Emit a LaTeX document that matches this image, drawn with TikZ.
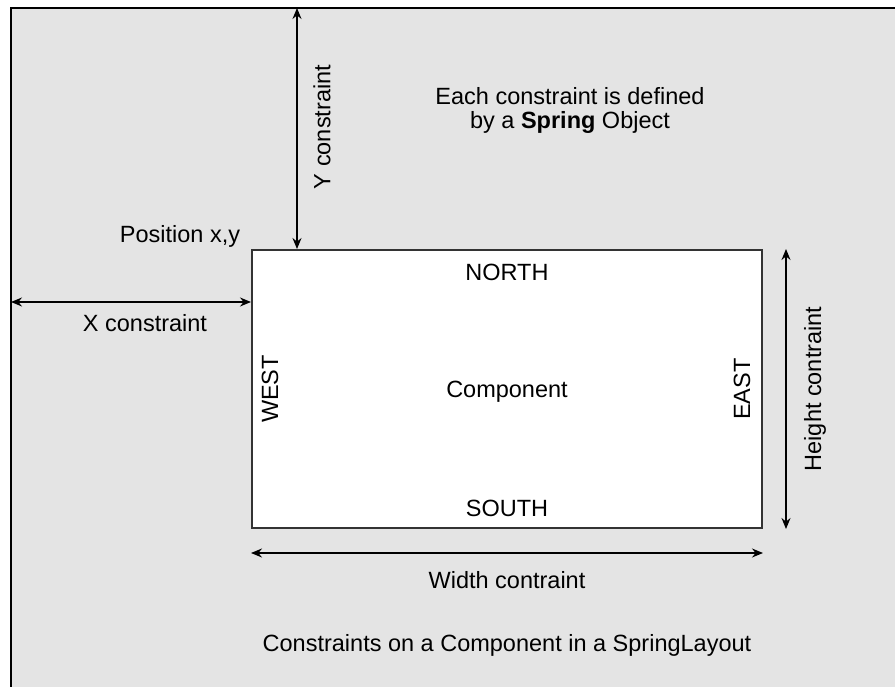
\documentclass[tikz,border=0pt]{standalone}
\usepackage{fontspec}
\setmainfont{Liberation Sans}
\usetikzlibrary{arrows.meta}

\definecolor{panelgray}{HTML}{E4E4E4}
\definecolor{boxedge}{HTML}{333333}

\begin{document}
\begin{tikzpicture}[x=1pt,y=-1pt,
    dimline/.style={{Stealth[length=11pt,width=9pt]}-{Stealth[length=11pt,width=9pt]},line width=1.5pt},
    lbl/.style={font=\fontsize{23.5}{24}\selectfont,inner sep=0pt}]
    \useasboundingbox (0,0) rectangle (895,687);
    \fill[panelgray] (11,8) rectangle (895,687);
    \draw[line width=2pt] (11,687) -- (11,8) -- (895,8);

    \node[draw=boxedge,fill=white,line width=2pt,minimum width=510pt,minimum height=278pt,inner sep=0pt] (comp) at (507,389) {};

    \coordinate (ytop) at (297,8);
    \coordinate (xleft) at (11,302);
    \coordinate (hgt) at (786,0);
    \coordinate (wid) at (0,553);

    \draw[dimline] (ytop) -- (ytop |- comp.north);
    \draw[dimline] (xleft) -- (xleft -| comp.west);
    \draw[dimline] (hgt |- comp.north) -- (hgt |- comp.south);
    \draw[dimline] (wid -| comp.west) -- (wid -| comp.east);

    \node[lbl,rotate=90] (ylbl) at (322,127) {Y constraint};
    \node[lbl,anchor=base] (pos) at (180,243) {Position x,y};
    \node[lbl,anchor=base] (xlbl) at (145,332) {X constraint};
    \node[lbl,rotate=90] (hlbl) at (815,389) {Height contraint};
    \node[lbl,anchor=base] (wlbl) at (507,588) {Width contraint};

    \node[lbl,anchor=base] (north) at (507,281) {NORTH};
    \node[lbl,anchor=base] (south) at (507,516) {SOUTH};
    \node[lbl,anchor=base] (name) at (507,397) {Component};
    \node[lbl,rotate=90] (west) at (270,389) {WEST};
    \node[lbl,rotate=90] (east) at (742,389) {EAST};

    \node[lbl,align=center] (note) at (570,110) {Each constraint is defined\\by a \textbf{Spring} Object};
    \node[lbl,anchor=base] (caption) at (507,651) {Constraints on a Component in a SpringLayout};
\end{tikzpicture}
\end{document}
